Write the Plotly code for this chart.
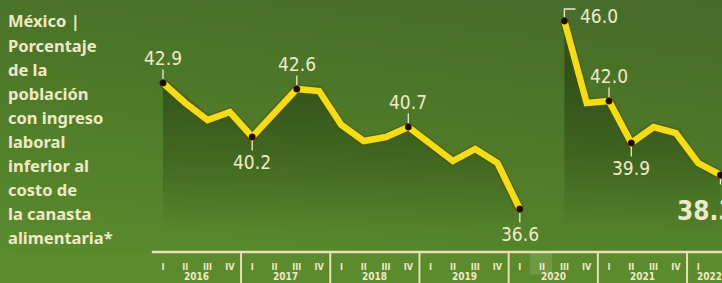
import plotly.graph_objects as go
import numpy as np

# ---------------- data ----------------
years = ["2016", "2017", "2018", "2019", "2020", "2021", "2022"]
quarter_labels = ["I", "II", "III", "IV"] * 6 + ["I", "II"]
values = [42.9, 41.9, 41.05, 41.45, 40.2, 41.4, 42.6, 42.5,
          40.8, 40.0, 40.2, 40.7, 39.8, 39.0, 39.6, 38.9,
          36.6, None, 46.0, 41.9, 42.0, 39.9, 40.7, 40.4,
          38.9, 38.3]
labeled_idx = [0, 4, 6, 11, 16, 18, 20, 21, 25]
label_pos = ["above", "below", "above", "above", "below", "bracket", "above", "below", "big"]
title_lines = ["México |", "Porcentaje", "de la", "población", "con ingreso",
               "laboral", "inferior al", "costo de", "la canasta", "alimentaria*"]

# ---------------- style ----------------
CREAM = "#efeac6"
YELLOW = "#f3dc18"
W, H = 722, 283
PX_PER_Q = 22.3
X0_PX = 163
x_range = [-X0_PX / PX_PER_Q, (W - X0_PX) / PX_PER_Q]
AXIS_PX = 252
y_range = [42.9 - (AXIS_PX - 83) / 20.0, 42.9 + 83 / 20.0]
ydom0 = (H - AXIS_PX) / H
LFONT = "Liberation Sans Narrow, DejaVu Sans Condensed, DejaVu Sans"

x = list(range(len(values)))
fig = go.Figure()

# background gradient (decorative)
gx = np.linspace(x_range[0] - 1, x_range[1] + 1, 30)
gy = np.linspace(y_range[0] - 1, y_range[1] + 1, 30)
GX, GY = np.meshgrid((gx - gx.min()) / (gx.max() - gx.min()), (gy - gy.min()) / (gy.max() - gy.min()))
Z = 0.75 * GY + 0.25 * GX
fig.add_trace(go.Heatmap(x=gx, y=gy, z=Z, zsmooth="best", showscale=False, hoverinfo="skip",
                         colorscale=[[0, "#5c8c2e"], [0.5, "#4e7a29"], [1, "#44692a"]]))

# area fills, one per continuous segment
segments = []
cur = []
for i, v in enumerate(values):
    if v is None:
        if cur:
            segments.append(cur)
        cur = []
    else:
        cur.append(i)
if cur:
    segments.append(cur)

base = y_range[0]
for seg in segments:
    sx = [x[i] for i in seg]
    sy = [values[i] for i in seg]
    fig.add_trace(go.Scatter(x=sx, y=[base] * len(sx), mode="lines", line=dict(width=0),
                             hoverinfo="skip", showlegend=False))
    fig.add_trace(go.Scatter(x=sx, y=sy, mode="lines", line=dict(width=0), fill="tonexty",
                             fillgradient=dict(type="vertical", start=35.6, stop=43.0,
                                               colorscale=[[0, "rgba(35,60,15,0)"],
                                                           [0.5, "rgba(35,60,15,0.35)"],
                                                           [1, "rgba(35,60,15,0.6)"]]),
                             hoverinfo="skip", showlegend=False))

# line with dark edge
fig.add_trace(go.Scatter(x=x, y=values, mode="lines", connectgaps=False,
                         line=dict(color="rgba(90,80,0,0.55)", width=9.5), hoverinfo="skip", showlegend=False))
fig.add_trace(go.Scatter(x=x, y=values, mode="lines", connectgaps=False,
                         line=dict(color=YELLOW, width=6.5), showlegend=False))
fig.add_trace(go.Scatter(x=[x[i] for i in labeled_idx], y=[values[i] for i in labeled_idx],
                         mode="markers", marker=dict(color="#1a0a08", size=6.5,
                                                     line=dict(color="#4a2a10", width=0.5)),
                         showlegend=False))

# value labels
for i, pos in zip(labeled_idx, label_pos):
    v = values[i]
    txt = f"{v:.1f}"
    if pos == "above":
        fig.add_annotation(x=x[i], y=v, text=txt, showarrow=True, arrowhead=0, arrowwidth=1.3,
                           arrowcolor=CREAM, ax=0, ay=-25, standoff=4,
                           font=dict(family=LFONT, size=19, color=CREAM), borderpad=0)
    elif pos == "below":
        fig.add_annotation(x=x[i], y=v, text=txt, showarrow=True, arrowhead=0, arrowwidth=1.3,
                           arrowcolor=CREAM, ax=0, ay=25, standoff=4,
                           font=dict(family=LFONT, size=19, color=CREAM), borderpad=0)
    elif pos == "bracket":
        fig.add_annotation(x=x[i], y=v, text=txt, showarrow=False, xanchor="left", yanchor="middle",
                           xshift=14, yshift=5, font=dict(family=LFONT, size=19, color=CREAM))
        fig.add_shape(type="path", xref="x", yref="y", xsizemode="pixel", ysizemode="pixel",
                      xanchor=x[i], yanchor=v, path="M0,4 L0,12 L11,12",
                      line=dict(color=CREAM, width=1.3))
    else:
        fig.add_annotation(x=x[i], y=v, text=txt, showarrow=True, arrowhead=0, arrowwidth=1.3,
                           arrowcolor=CREAM, ax=0, ay=12, standoff=4, xanchor="center",
                           font=dict(family=LFONT, size=1, color="rgba(0,0,0,0)"))
        fig.add_annotation(x=x[i], y=v, text=f"<b>{txt}</b>", showarrow=False, xanchor="left",
                           xshift=-46, yshift=-36, font=dict(family=LFONT, size=26, color=CREAM))

# 2020 II highlight band
fig.add_shape(type="rect", xref="x", yref="y", x0=16.45, x1=17.45, y0=37.9, y1=y_range[0],
              fillcolor="rgba(255,250,220,0.13)", line=dict(width=0), layer="below")
fig.add_shape(type="rect", xref="x", yref="paper", x0=16.45, x1=17.45, y0=0.03, y1=ydom0,
              fillcolor="rgba(255,250,220,0.13)", line=dict(width=0))

# axis baseline and year separators
fig.add_shape(type="line", xref="x", yref="paper", x0=-0.5, x1=x_range[1] + 1, y0=ydom0, y1=ydom0,
              line=dict(color="#e6e2b6", width=2.5))
for k in range(1, len(years)):
    sep = 4 * k - 0.5
    fig.add_shape(type="line", xref="x", yref="paper", x0=sep, x1=sep, y0=0, y1=ydom0,
                  line=dict(color="#e6e2b6", width=2))

# year labels
for k, yr in enumerate(years):
    n = min(4, len(values) - 4 * k)
    cx = 4 * k + (n - 1) / 2
    fig.add_annotation(x=cx, xref="x", y=0.0, yref="paper", text=f"<b>{yr}</b>", showarrow=False,
                       yanchor="bottom", borderpad=0, yshift=0,
                       font=dict(family=LFONT, size=10, color=CREAM))

# title block
for j, line in enumerate(title_lines):
    fig.add_annotation(x=6 / W, xref="paper", y=1 - (21 + j * 24.1) / H, yref="paper",
                       text=f"<b>{line}</b>", showarrow=False, xanchor="left", yanchor="middle",
                       font=dict(family="Noto Sans", size=16.5, color=CREAM))

fig.update_layout(
    width=W, height=H, margin=dict(l=0, r=0, t=0, b=0),
    paper_bgcolor="#5b8b2d", plot_bgcolor="#4d7828", showlegend=False,
    xaxis=dict(range=x_range, domain=[0, 1], showgrid=False, zeroline=False, showline=False,
               tickmode="array", tickvals=x, ticktext=[f"<b>{q}</b>" for q in quarter_labels],
               tickfont=dict(family=LFONT, size=9, color=CREAM), ticks="", ticklabelstandoff=8),
    yaxis=dict(range=y_range, domain=[ydom0, 1], showgrid=False, zeroline=False, visible=False),
)

fig.write_html("out.html", config={"displayModeBar": False},
               post_script="document.body.style.margin='0';document.body.style.background='#5b8b2d';")
